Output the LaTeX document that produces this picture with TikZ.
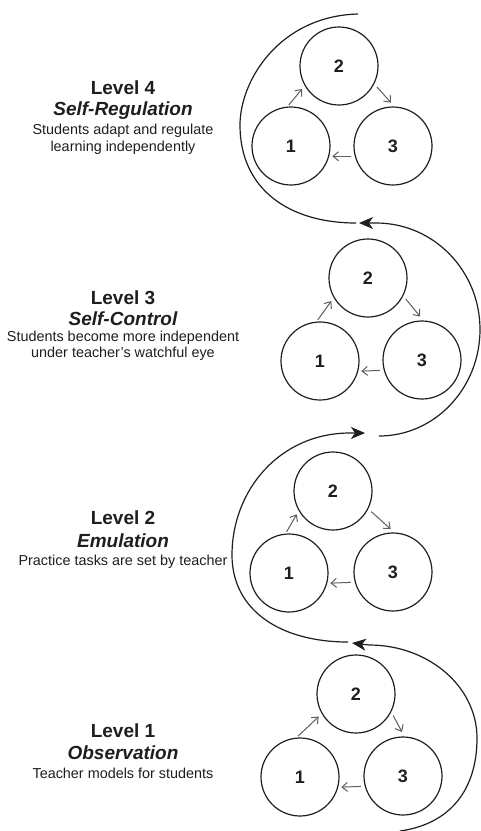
\documentclass[tikz,border=0pt]{standalone}
\usepackage{fontspec}
\setmainfont{Liberation Sans}
\usetikzlibrary{arrows.meta,calc}
\definecolor{ink}{HTML}{1E1E1E}
\definecolor{cyclegray}{HTML}{5E5E5E}
\begin{document}
\begin{tikzpicture}[x=1pt,y=-1pt,
  stage/.style={circle,draw=ink,line width=1.2pt,minimum size=78pt,inner sep=0pt,
    font=\fontsize{18}{18}\selectfont\bfseries,text=ink},
  cyc/.style={draw=cyclegray,line width=1pt,-{Straight Barb[length=5.5pt,width=9pt]}},
  spiral/.style={draw=ink,line width=1.2pt},
  spiralarrow/.style={spiral,-{Stealth[length=14pt,width=12pt,inset=4pt]}},
  ttl/.style={anchor=base,font=\fontsize{19}{19}\selectfont\bfseries,text=ink},
  sub/.style={anchor=base,font=\fontsize{19}{19}\selectfont\bfseries\itshape,text=ink},
  body/.style={anchor=base,font=\fontsize{14.4}{16}\selectfont,text=ink}]
\useasboundingbox (0,0) rectangle (481,831);

% ---------- circles ----------
\node[stage] (l4b) at (339,66) {2};
\node[stage] (l4a) at (291,146) {1};
\node[stage] (l4c) at (393,146) {3};

\node[stage] (l3b) at (368,278) {2};
\node[stage] (l3a) at (320,361) {1};
\node[stage] (l3c) at (422,360) {3};

\node[stage] (l2b) at (333,491) {2};
\node[stage] (l2a) at (289,573) {1};
\node[stage] (l2c) at (393,572) {3};

\node[stage] (l1b) at (356,694) {2};
\node[stage] (l1a) at (300,777) {1};
\node[stage] (l1c) at (403,776) {3};

% ---------- cycle arrows ----------
\foreach \l in {l1,l2,l3,l4}{
  \draw[cyc,shorten <=2pt,shorten >=4pt] (\l a.95) -- (\l b.210);
  \draw[cyc,shorten <=4pt,shorten >=5pt] (\l b.333) -- (\l c.88);
  \draw[cyc,shorten <=4pt,shorten >=3pt] (\l c.195) -- (\l a.345);
}

% ---------- spiral ----------
\coordinate (s0) at (400,831);
\coordinate (s1) at (477,738);
\coordinate (s1e) at (369,645);
\coordinate (t1) at (352,643);
\coordinate (s2) at (348,642);
\coordinate (s2m) at (232,555);
\coordinate (s2e) at (350,433);
\coordinate (t2) at (365,433);
\coordinate (s3) at (379,436);
\coordinate (s3m) at (480,329.5);
\coordinate (s3e) at (376,223);
\coordinate (t3) at (359,223);
\coordinate (s4) at (356,223);
\coordinate (s4m) at (240,125);
\coordinate (s4e) at (358,14);

\draw[spiralarrow] (s0) .. controls (450,824) and (477,790) .. (s1)
  .. controls (477,687) and (429,645) .. (s1e) -- (t1);
\draw[spiralarrow] (s2) .. controls (280,642) and (232,610) .. (s2m)
  .. controls (232,490) and (280,433) .. (s2e) -- (t2);
\draw[spiralarrow] (s3) .. controls (435,436) and (480,388) .. (s3m)
  .. controls (480,271) and (434,223) .. (s3e) -- (t3);
\draw[spiral] (s4) .. controls (290,223) and (240,190) .. (s4m)
  .. controls (240,80) and (280,16) .. (s4e);

% ---------- texts ----------
\node[ttl]  (h4) at (123,94)  {Level 4};
\node[sub]  (n4) at (123,115) {Self-Regulation};
\node[body] (d4a) at (123,134) {Students adapt and regulate};
\node[body] (d4b) at (123,151) {learning independently};

\node[ttl]  (h3) at (123,304) {Level 3};
\node[sub]  (n3) at (123,325) {Self-Control};
\node[body] (d3a) at (123,341) {Students become more independent};
\node[body] (d3b) at (123,357) {under teacher’s watchful eye};

\node[ttl]  (h2) at (123,524) {Level 2};
\node[sub]  (n2) at (123,547) {Emulation};
\node[body] (d2a) at (123,565) {Practice tasks are set by teacher};

\node[ttl]  (h1) at (123,737) {Level 1};
\node[sub]  (n1) at (123,759) {Observation};
\node[body] (d1a) at (123,778) {Teacher models for students};
\end{tikzpicture}
\end{document}
